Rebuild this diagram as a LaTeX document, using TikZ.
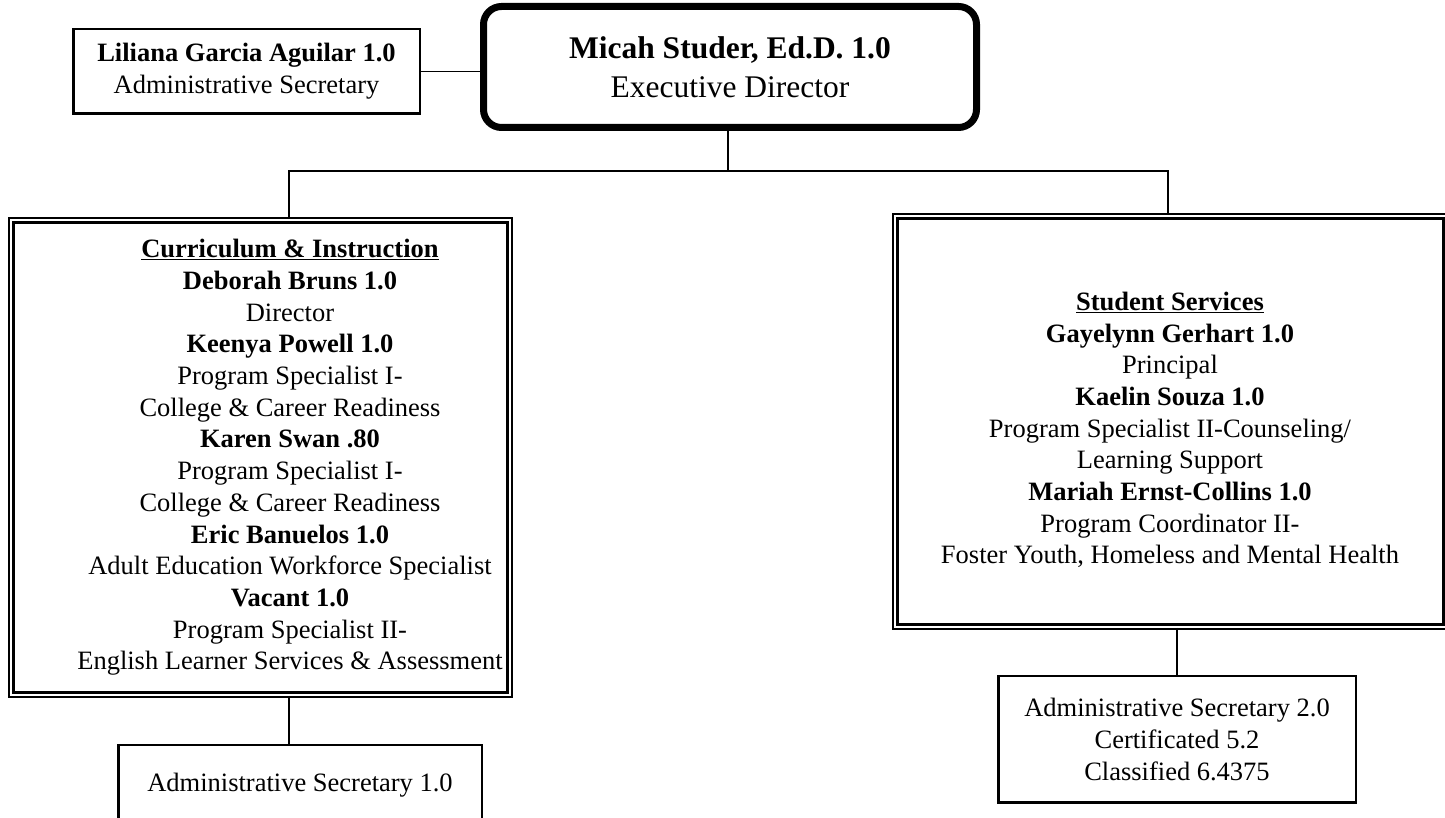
\documentclass[tikz,border=0pt]{standalone}
\usepackage{fontspec}
\setmainfont{Liberation Serif}
\begin{document}
\begin{tikzpicture}[x=1pt,y=1pt,
  txt/.style={align=center,inner sep=0pt,font=\fontsize{26.5}{31.7}\selectfont},
  sbox/.style={txt,draw,line width=2.5pt},
  dbox/.style={draw,inner sep=0pt,double,line width=2.4pt,double distance=2pt},
  topbox/.style={align=center,inner sep=0pt,draw,line width=7pt,rounded corners=18pt,font=\fontsize{31.5}{39}\selectfont},
  conn/.style={line width=1.6pt}]
\useasboundingbox (0,0) rectangle (1445,818);
\clip (0,0) rectangle (1445,818);
% boxes
\node[topbox,minimum width=493pt,minimum height=121pt] (mic) at (730,751)
  {\textbf{Micah Studer, Ed.D. 1.0}\\Executive Director};
\node[sbox,minimum width=346.5pt,minimum height=84.5pt,font=\fontsize{26.5}{32}\selectfont] (lil) at (246.5,746.5)
  {\textbf{Liliana Garcia Aguilar 1.0}\\Administrative Secretary};
\node[dbox,minimum width=498.2pt,minimum height=474.2pt] (cur) at (260.5,360.5) {};
\node[txt] (curtxt) at (290,360.5)
  {\underline{\textbf{Curriculum \& Instruction}}\\
   \textbf{Deborah Bruns 1.0}\\
   Director\\
   \textbf{Keenya Powell 1.0}\\
   Program Specialist I-\\
   College \& Career Readiness\\
   \textbf{Karen Swan .80}\\
   Program Specialist I-\\
   College \& Career Readiness\\
   \textbf{Eric Banuelos 1.0}\\
   Adult Education Workforce Specialist\\
   \textbf{Vacant 1.0}\\
   Program Specialist II-\\
   English Learner Services \& Assessment};
\node[dbox,minimum width=550.2pt,minimum height=410.2pt] (ss) at (1170.5,396.5) {};
\node[txt] (sstxt) at (1170,388)
  {\underline{\textbf{Student Services}}\\
   \textbf{Gayelynn Gerhart 1.0}\\
   Principal\\
   \textbf{Kaelin Souza 1.0}\\
   Program Specialist II-Counseling/\\
   Learning Support\\
   \textbf{Mariah Ernst-Collins 1.0}\\
   Program Coordinator II-\\
   Foster Youth, Homeless and Mental Health};
\node[sbox,minimum width=363.5pt,minimum height=79.5pt] (sec1) at (300,33)
  {Administrative Secretary 1.0};
\node[sbox,minimum width=357.5pt,minimum height=126.5pt] (sec2) at (1177,78.5)
  {Administrative Secretary 2.0\\Certificated 5.2\\Classified 6.4375};
% junctions
\coordinate (jl) at (289,647);
\coordinate (jm) at (728,647);
\coordinate (jr) at (1168,647);
% connectors
\draw[conn] (lil.east) -- (lil.east -| mic.west);
\draw[conn] (mic.south -| jm) -- (jm);
\draw[conn] (cur.north -| jl) -- (jl) -- (jr) -- (ss.north -| jr);
\draw[conn] (cur.south -| jl) -- (sec1.north -| jl);
\draw[conn] (ss.south -| sec2.north) -- (sec2.north);
\end{tikzpicture}
\end{document}
